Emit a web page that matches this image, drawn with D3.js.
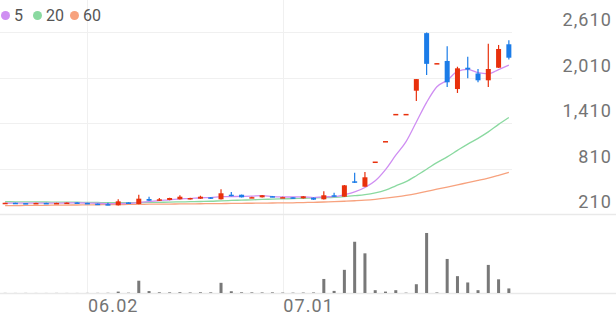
<!DOCTYPE html>
<html>
<head>
<meta charset="utf-8">
<script src="https://cdn.jsdelivr.net/npm/d3@7"></script>
<style>
  html, body { margin: 0; padding: 0; background: #fff; }
  svg { display: block; font-family: Roboto, 'Noto Sans', sans-serif; }
</style>
</head>
<body>
<svg id="chart" width="616" height="321"></svg>
<script>
// trading days, 05.21 -> 07.31
const dates = [
  '05.21', '05.22', '05.23', '05.26', '05.27', '05.28', '05.29', '05.30',
  '06.02', '06.04', '06.05', '06.09', '06.10', '06.11', '06.12', '06.13',
  '06.16', '06.17', '06.18', '06.19', '06.20', '06.23', '06.24', '06.25',
  '06.26', '06.27', '06.30',
  '07.01', '07.02', '07.03', '07.04', '07.07', '07.08', '07.09', '07.10',
  '07.11', '07.14', '07.15', '07.16', '07.17', '07.18', '07.21', '07.22',
  '07.23', '07.24', '07.25', '07.28', '07.29', '07.30', '07.31'
];

const open = [352, 358, 354, 348, 356, 350, 354, 362, 356, 346, 340, 325, 362, 342, 408, 385, 395, 404, 404, 412,
  430, 404, 464, 464, 425, 430, 445, 428, 430, 417, 425, 404, 457, 438, 641, 570, 902, 1172, 1530, 1530,
  1836, 2595, 2190, 2228, 1858, 2139, 2063, 1973, 2139, 2448];
const high = [360, 359, 356, 358, 357, 358, 362, 364, 358, 348, 358, 404, 365, 464, 438, 421, 425, 457, 425, 451,
  434, 536, 500, 466, 436, 460, 448, 436, 432, 446, 428, 509, 491, 592, 755, 764, 902, 1172, 1530, 1530,
  1989, 2605, 2200, 2421, 2152, 2283, 2122, 2456, 2439, 2500];
const low = [348, 350, 348, 346, 348, 349, 352, 354, 348, 336, 326, 322, 350, 340, 382, 382, 392, 400, 400, 410,
  408, 400, 445, 428, 422, 428, 432, 426, 410, 415, 396, 402, 436, 436, 620, 568, 902, 1172, 1530, 1530,
  1700, 2043, 2190, 1885, 1806, 2000, 1947, 1885, 2135, 2247];
const close = [358, 352, 350, 356, 350, 356, 360, 356, 350, 338, 328, 377, 352, 412, 385, 404, 421, 438, 421, 438,
  412, 483, 447, 430, 432, 457, 436, 432, 412, 443, 399, 457, 438, 588, 623, 694, 902, 1172, 1530, 1530,
  1989, 2190, 2200, 1947, 2131, 2115, 1973, 2122, 2386, 2271];

// volume, thousand shares
const volume = [3, 2, 3, 2, 2, 3, 2, 2, 3, 4, 6, 40, 8, 350, 55, 20, 18, 22, 15, 20,
  18, 290, 50, 20, 18, 16, 18, 12, 10, 12, 15, 400, 60, 660, 1460, 1130, 80, 40, 80, 10,
  250, 1710, 15, 970, 480, 300, 80, 800, 390, 130];

// moving averages
const ma5 = [352, 353, 353, 353, 353, 354, 355, 356, 354, 352, 345, 348, 349, 360, 372, 387, 396, 410, 414, 424,
  426, 439, 440, 442, 446, 452, 440, 435, 434, 436, 427, 437, 438, 465, 501, 560, 648, 796, 985, 1164,
  1423, 1682, 1888, 1972, 2090, 2117, 2073, 2058, 2115, 2173];
const ma20 = [372, 371, 370, 369, 368, 367, 366, 365, 364, 362, 360, 360, 359, 361, 362, 364, 367, 370, 372, 375,
  378, 384, 389, 393, 397, 402, 406, 410, 413, 418, 421, 425, 430, 439, 451, 465, 489, 526, 582, 637,
  715, 800, 888, 964, 1049, 1132, 1208, 1293, 1392, 1483];
const ma60 = [320, 321, 323, 324, 325, 327, 328, 329, 331, 332, 333, 335, 336, 337, 339, 340, 341, 343, 344, 345,
  347, 348, 349, 351, 352, 353, 355, 356, 358, 361, 364, 368, 372, 378, 385, 393, 404, 418, 436, 456,
  480, 508, 537, 565, 594, 624, 653, 684, 720, 758];

const yTicks = [210, 810, 1410, 2010, 2610];
const xTicks = ['06.02', '07.01'];
const maNames = ['5', '20', '60'];
const maColors = ['#cf8ef2', '#8ad9a0', '#f7a27e'];

const UP = '#e8300c';
const DOWN = '#1b7ce8';

const svg = d3.select('#chart');
const width = 616;

const x = d3.scaleBand().domain(dates).range([0, 514]);
const cx = d => x(d) + x.bandwidth() / 2;
const y = d3.scaleLinear().domain([210, 2610]).range([214, 32]);
const yVol = d3.scaleLinear().domain([0, 2000]).range([293, 222.8]);

// grid
svg.append('g')
  .selectAll('line')
  .data(yTicks.slice(1))
  .join('line')
  .attr('x1', 0)
  .attr('x2', 512)
  .attr('y1', d => Math.round(y(d)) + 0.5)
  .attr('y2', d => Math.round(y(d)) + 0.5)
  .attr('stroke', '#f0f0f0');

svg.append('g')
  .selectAll('line')
  .data(xTicks)
  .join('line')
  .attr('x1', d => Math.round(cx(d)) + 0.5)
  .attr('x2', d => Math.round(cx(d)) + 0.5)
  .attr('y1', 0)
  .attr('y2', 293)
  .attr('stroke', '#f0f0f0');

// pane separators
svg.append('g')
  .selectAll('line')
  .data([214.5, 293.5])
  .join('line')
  .attr('x1', 0)
  .attr('x2', width)
  .attr('y1', d => d)
  .attr('y2', d => d)
  .attr('stroke', '#e9e9e9')
  .attr('stroke-width', 1.5);

// moving averages
const line = d3.line()
  .x((d, i) => cx(dates[i]))
  .y(d => y(d))
  .curve(d3.curveMonotoneX);

svg.append('g')
  .selectAll('path')
  .data([ma60, ma20, ma5])
  .join('path')
  .attr('d', line)
  .attr('fill', 'none')
  .attr('stroke', (d, i) => maColors[2 - i])
  .attr('stroke-width', 1.3);

// candles
const bodyW = 5;
const candles = svg.append('g')
  .selectAll('g')
  .data(dates.map((d, i) => ({ date: d, o: open[i], h: high[i], l: low[i], c: close[i] })))
  .join('g')
  .attr('fill', d => (d.c >= d.o ? UP : DOWN))
  .attr('stroke', d => (d.c >= d.o ? UP : DOWN));

candles.append('line')
  .attr('x1', d => cx(d.date))
  .attr('x2', d => cx(d.date))
  .attr('y1', d => y(d.h))
  .attr('y2', d => y(d.l))
  .attr('stroke-width', 1.2);

candles.append('rect')
  .attr('x', d => cx(d.date) - bodyW / 2)
  .attr('width', bodyW)
  .attr('y', d => y(Math.max(d.o, d.c)))
  .attr('height', d => Math.max(1.5, Math.abs(y(d.o) - y(d.c))))
  .attr('stroke', 'none');

// volume
svg.append('g')
  .selectAll('rect')
  .data(volume)
  .join('rect')
  .attr('x', (d, i) => cx(dates[i]) - 1.5)
  .attr('width', 3)
  .attr('y', d => yVol(d))
  .attr('height', d => yVol(0) - yVol(d))
  .attr('fill', '#787878');

// right price axis
const yAxis = svg.append('g')
  .attr('transform', 'translate(612,0)')
  .call(d3.axisLeft(y).tickValues(yTicks).tickSize(0).tickPadding(0).tickFormat(d3.format(',')));
yAxis.select('.domain').remove();
yAxis.selectAll('text')
  .attr('dy', -6.5)
  .style('font-size', '18px')
  .style('letter-spacing', '1.1px')
  .style('font-family', 'Roboto')
  .attr('fill', '#747474');

// date axis
const xAxis = svg.append('g')
  .attr('transform', 'translate(0,293)')
  .call(d3.axisBottom(x).tickValues(xTicks).tickSize(0));
xAxis.select('.domain').remove();
xAxis.selectAll('text')
  .attr('text-anchor', 'start')
  .attr('x', 0.5)
  .attr('y', 19)
  .attr('dy', 0)
  .style('font-size', '18px')
  .style('letter-spacing', '1.1px')
  .style('font-family', 'Roboto')
  .attr('fill', '#747474');

// legend
const legendX = [5.5, 37.5, 74.5];
const legend = svg.append('g')
  .selectAll('g')
  .data(maNames)
  .join('g')
  .attr('transform', (d, i) => `translate(${legendX[i]},15.5)`);
legend.append('circle')
  .attr('r', 4.5)
  .attr('fill', (d, i) => maColors[i]);
legend.append('text')
  .attr('x', 8.5)
  .attr('y', 5.5)
  .text(d => d)
  .style('font-size', '16px')
  .attr('fill', '#555');
</script>
</body>
</html>
